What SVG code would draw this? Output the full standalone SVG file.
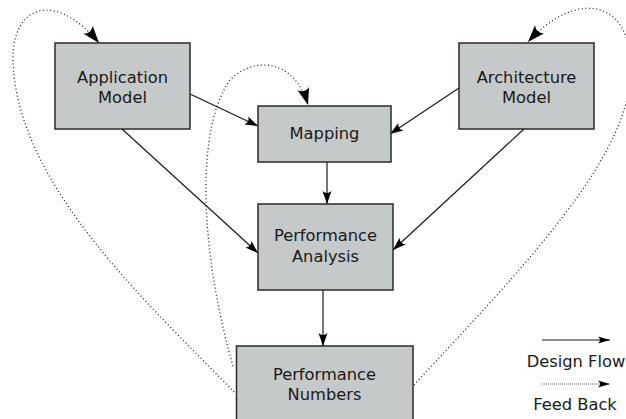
<svg xmlns="http://www.w3.org/2000/svg" width="626" height="419" viewBox="0 0 626 419">
<style>
.box{fill:#c6c9c9;stroke:#2a2a2a;stroke-width:1.5}
.lbl{font-family:"DejaVu Sans",sans-serif;font-size:16.3px;fill:#1a1a1a;text-anchor:middle}
.flow{fill:none;stroke:#1a1a1a;stroke-width:1.2}
.fb{fill:none;stroke:#222;stroke-width:1.3;stroke-dasharray:1 2.6}
</style>
<defs>
<marker id="ah" markerUnits="userSpaceOnUse" orient="auto" overflow="visible" markerWidth="1" markerHeight="1" refX="0" refY="0">
<path d="M0,0 L-13,-4.5 Q-9,0 -13,4.5 Z" fill="#000"/>
</marker>
<marker id="ahb" markerUnits="userSpaceOnUse" orient="auto" overflow="visible" markerWidth="1" markerHeight="1" refX="0" refY="0">
<path d="M0,0 L-17,-6 Q-12,0 -17,6 Z" fill="#000"/>
</marker>
<marker id="ahs" markerUnits="userSpaceOnUse" orient="auto" overflow="visible" markerWidth="1" markerHeight="1" refX="0" refY="0">
<path d="M0,0 L-12,-3.5 Q-8,0 -12,3.5 Z" fill="#000"/>
</marker>
</defs>
<g id="connectors">
<line class="flow" x1="190" y1="94" x2="258" y2="126" marker-end="url(#ah)"/>
<line class="flow" x1="122" y1="129" x2="258" y2="253" marker-end="url(#ah)"/>
<line class="flow" x1="459" y1="88" x2="390" y2="134" marker-end="url(#ah)"/>
<line class="flow" x1="524" y1="129" x2="393" y2="250" marker-end="url(#ah)"/>
<line class="flow" x1="327" y1="162" x2="327" y2="204" marker-end="url(#ah)"/>
<line class="flow" x1="323" y1="290" x2="323" y2="346" marker-end="url(#ah)"/>
<path class="fb" d="M234,392 C150,305 16,185 13,60 C12,5 55,-10 99,43" marker-end="url(#ahb)"/>
<path class="fb" d="M233,366 C200,250 195,130 230,80 C255,55 295,60 308,105" marker-end="url(#ahb)"/>
<path class="fb" d="M414,385 C520,270 640,150 630,60 C628,0 575,-10 528,42" marker-end="url(#ahb)"/>
</g>
<g id="app">
<rect class="box" x="55" y="43" width="135" height="86"/>
<text class="lbl" x="122.5" y="83">Application</text>
<text class="lbl" x="122.5" y="103">Model</text>
</g>
<g id="mapping">
<rect class="box" x="258" y="106" width="133" height="56"/>
<text class="lbl" x="324.5" y="139">Mapping</text>
</g>
<g id="arch">
<rect class="box" x="459" y="43" width="135" height="86"/>
<text class="lbl" x="526.5" y="83">Architecture</text>
<text class="lbl" x="526.5" y="103">Model</text>
</g>
<g id="analysis">
<rect class="box" x="258" y="204" width="135" height="86"/>
<text class="lbl" x="325.5" y="241">Performance</text>
<text class="lbl" x="325.5" y="262">Analysis</text>
</g>
<g id="numbers">
<rect class="box" x="236.5" y="346" width="176.5" height="80"/>
<text class="lbl" x="324.5" y="380">Performance</text>
<text class="lbl" x="324.5" y="400">Numbers</text>
</g>
<g id="legend">
<line class="flow" x1="542" y1="340" x2="610" y2="340" marker-end="url(#ahs)"/>
<text class="lbl" x="576" y="367">Design Flow</text>
<line x1="542" y1="384" x2="610" y2="384" stroke="#222" stroke-width="0.9" stroke-dasharray="0.8 1.2" marker-end="url(#ahs)"/>
<text class="lbl" x="575" y="410">Feed Back</text>
</g>
</svg>
